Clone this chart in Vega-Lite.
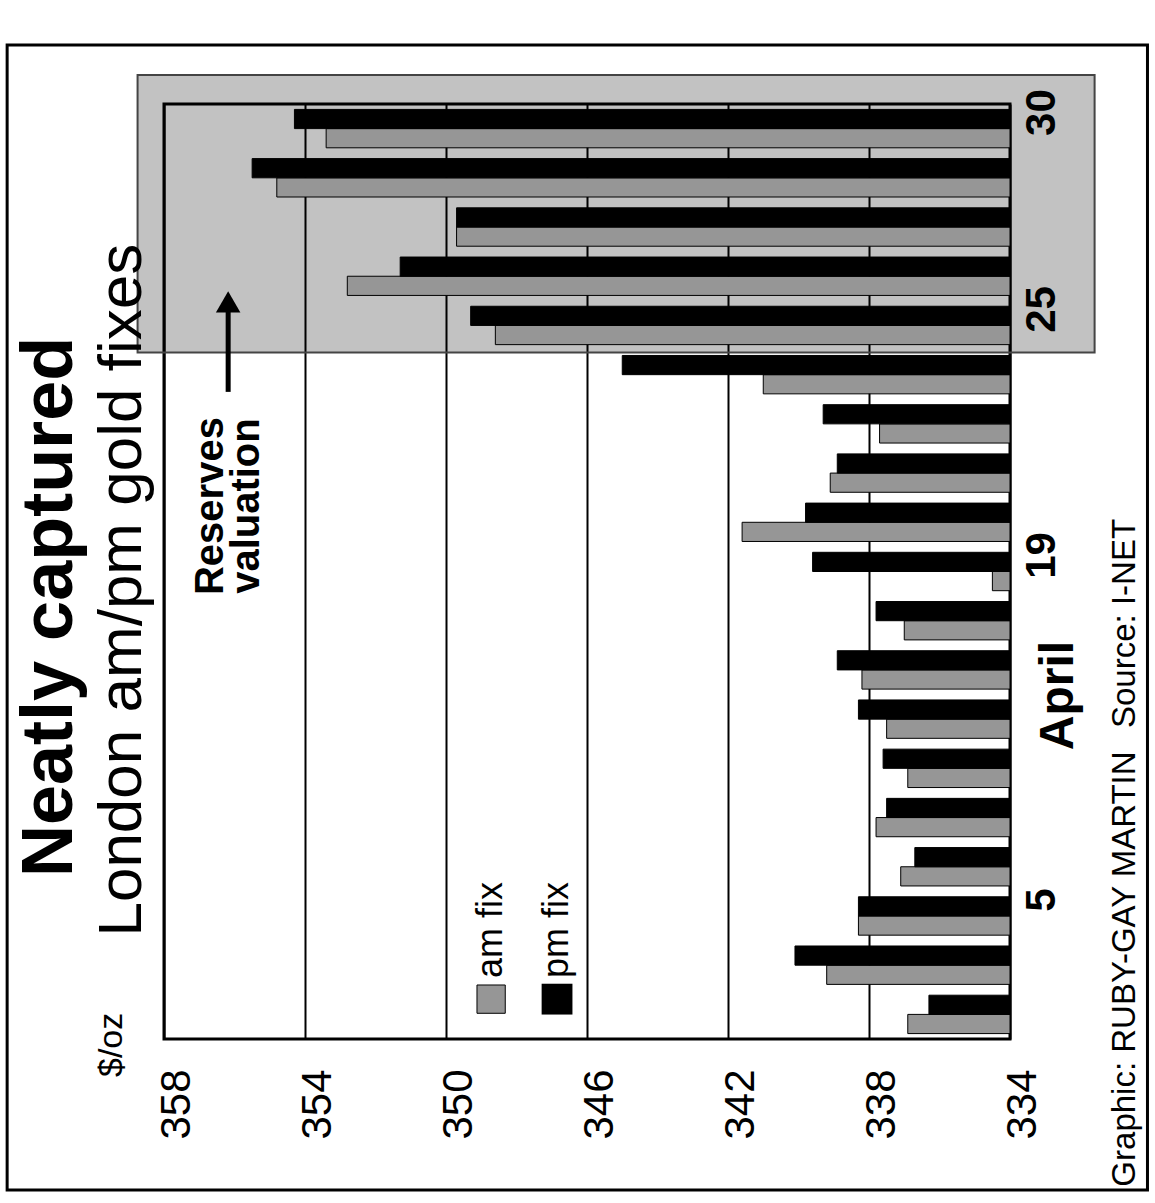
{
  "$schema": "https://vega.github.io/schema/vega-lite/v6.json",
  "width": 846,
  "height": 935,
  "autosize": {"type": "none"},
  "padding": {"left": 164, "top": 104, "right": 145, "bottom": 164},
  "background": "white",
  "config": {
    "font": "Liberation Sans",
    "view": {"stroke": "black", "strokeWidth": 3}
  },
  "datasets": {
    "fixes": [
      {"idx": 1, "fix": "am", "price": 336.9}, {"idx": 1, "fix": "pm", "price": 336.3},
      {"idx": 2, "fix": "am", "price": 339.2}, {"idx": 2, "fix": "pm", "price": 340.1},
      {"idx": 3, "fix": "am", "price": 338.3}, {"idx": 3, "fix": "pm", "price": 338.3},
      {"idx": 4, "fix": "am", "price": 337.1}, {"idx": 4, "fix": "pm", "price": 336.7},
      {"idx": 5, "fix": "am", "price": 337.8}, {"idx": 5, "fix": "pm", "price": 337.5},
      {"idx": 6, "fix": "am", "price": 336.9}, {"idx": 6, "fix": "pm", "price": 337.6},
      {"idx": 7, "fix": "am", "price": 337.5}, {"idx": 7, "fix": "pm", "price": 338.3},
      {"idx": 8, "fix": "am", "price": 338.2}, {"idx": 8, "fix": "pm", "price": 338.9},
      {"idx": 9, "fix": "am", "price": 337.0}, {"idx": 9, "fix": "pm", "price": 337.8},
      {"idx": 10, "fix": "am", "price": 334.5}, {"idx": 10, "fix": "pm", "price": 339.6},
      {"idx": 11, "fix": "am", "price": 341.6}, {"idx": 11, "fix": "pm", "price": 339.8},
      {"idx": 12, "fix": "am", "price": 339.1}, {"idx": 12, "fix": "pm", "price": 338.9},
      {"idx": 13, "fix": "am", "price": 337.7}, {"idx": 13, "fix": "pm", "price": 339.3},
      {"idx": 14, "fix": "am", "price": 341.0}, {"idx": 14, "fix": "pm", "price": 345.0},
      {"idx": 15, "fix": "am", "price": 348.6}, {"idx": 15, "fix": "pm", "price": 349.3},
      {"idx": 16, "fix": "am", "price": 352.8}, {"idx": 16, "fix": "pm", "price": 351.3},
      {"idx": 17, "fix": "am", "price": 349.7}, {"idx": 17, "fix": "pm", "price": 349.7},
      {"idx": 18, "fix": "am", "price": 354.8}, {"idx": 18, "fix": "pm", "price": 355.5},
      {"idx": 19, "fix": "am", "price": 353.4}, {"idx": 19, "fix": "pm", "price": 354.3}
    ]
  },
  "layer": [
    {
      "data": {"values": [{}]},
      "mark": {"type": "rect", "filled": false, "color": "black", "strokeWidth": 3},
      "encoding": {
        "x": {"datum": 362.45, "type": "quantitative", "scale": {"domain": [334, 358], "reverse": true, "zero": false, "nice": false}},
        "x2": {"datum": 330.1},
        "y": {"datum": 20.7, "type": "quantitative", "scale": {"domain": [0.5, 19.5], "zero": false, "nice": false}, "axis": null},
        "y2": {"datum": -2.57}
      }
    },
    {
      "data": {"values": [{}]},
      "mark": {"type": "rect", "fill": "black", "fillOpacity": 0.24, "stroke": "#444444", "strokeWidth": 2},
      "encoding": {
        "x": {"datum": 358.75, "type": "quantitative", "scale": {"domain": [334, 358], "reverse": true, "zero": false, "nice": false}},
        "x2": {"datum": 331.6},
        "y": {"datum": 14.45, "type": "quantitative", "scale": {"domain": [0.5, 19.5], "zero": false, "nice": false}, "axis": null},
        "y2": {"datum": 20.09}
      }
    },
    {
      "data": {"name": "fixes"},
      "mark": {"type": "bar", "stroke": "black", "strokeWidth": 1},
      "encoding": {
        "y": {
          "field": "idx", "type": "ordinal", "sort": "descending",
          "scale": {"paddingInner": 0.22, "paddingOuter": 0.11},
          "axis": {
            "orient": "right", "values": [3, 10, 15, 19],
            "labelExpr": "datum.value == 3 ? '5' : datum.value == 10 ? '19' : datum.value == 15 ? '25' : '30'",
            "labelAngle": -90, "labelAlign": "center", "labelBaseline": "middle",
            "labelFontSize": 42, "labelFontWeight": "bold", "labelColor": "black",
            "labelPadding": 31, "labelOffset": -16, "ticks": false, "tickSize": 0, "domain": false, "grid": false,
            "title": "April", "titleAngle": -90, "titleFontSize": 48, "titleFontWeight": "bold", "titleColor": "black",
            "titleX": 48, "titleY": 591, "titleAlign": "center", "titleBaseline": "middle"
          }
        },
        "yOffset": {"field": "fix", "type": "nominal", "scale": {"domain": ["pm", "am"], "paddingInner": 0, "paddingOuter": 0}},
        "x": {
          "field": "price", "type": "quantitative",
          "scale": {"domain": [334, 358], "reverse": true, "zero": false, "nice": false},
          "axis": {
            "values": [334, 338, 342, 346, 350, 354, 358], "grid": true, "gridColor": "black", "gridWidth": 2, "gridOpacity": 1,
            "ticks": false, "domain": false, "labelAngle": -90, "labelAlign": "right", "labelBaseline": "middle",
            "labelFontSize": 42, "labelColor": "black", "labelPadding": 30, "labelOffset": 12, "labelFlush": false, "labelOverlap": false,
            "title": null
          }
        },
        "x2": {"datum": 334},
        "color": {"field": "fix", "type": "nominal", "scale": {"domain": ["am", "pm"], "range": ["#969696", "#000000"]}, "legend": null}
      }
    },
    {
      "data": {"values": [{}]},
      "mark": {"type": "point", "shape": "square", "filled": true, "opacity": 1, "size": 800, "color": "#969696", "stroke": "black", "strokeWidth": 1},
      "encoding": {
        "x": {"datum": 348.72, "type": "quantitative", "scale": {"domain": [334, 358], "reverse": true, "zero": false, "nice": false}},
        "y": {"datum": 1.31, "type": "quantitative", "scale": {"domain": [0.5, 19.5], "zero": false, "nice": false}, "axis": null}
      }
    },
    {
      "data": {"values": [{}]},
      "mark": {"type": "point", "shape": "square", "filled": true, "opacity": 1, "size": 950, "color": "black"},
      "encoding": {
        "x": {"datum": 346.85, "type": "quantitative", "scale": {"domain": [334, 358], "reverse": true, "zero": false, "nice": false}},
        "y": {"datum": 1.31, "type": "quantitative", "scale": {"domain": [0.5, 19.5], "zero": false, "nice": false}, "axis": null}
      }
    },
    {
      "data": {"values": [{}]},
      "mark": {"type": "text", "text": "am fix", "angle": -90, "align": "left", "baseline": "middle", "fontSize": 36, "color": "black"},
      "encoding": {
        "x": {"datum": 348.72, "type": "quantitative", "scale": {"domain": [334, 358], "reverse": true, "zero": false, "nice": false}},
        "y": {"datum": 1.74, "type": "quantitative", "scale": {"domain": [0.5, 19.5], "zero": false, "nice": false}, "axis": null}
      }
    },
    {
      "data": {"values": [{}]},
      "mark": {"type": "text", "text": "pm fix", "angle": -90, "align": "left", "baseline": "middle", "fontSize": 36, "color": "black"},
      "encoding": {
        "x": {"datum": 346.85, "type": "quantitative", "scale": {"domain": [334, 358], "reverse": true, "zero": false, "nice": false}},
        "y": {"datum": 1.74, "type": "quantitative", "scale": {"domain": [0.5, 19.5], "zero": false, "nice": false}, "axis": null}
      }
    },
    {
      "data": {"values": [{}]},
      "mark": {"type": "text", "text": ["Reserves", "valuation"], "angle": -90, "align": "center", "baseline": "middle", "fontSize": 40, "fontWeight": "bold", "lineHeight": 36, "color": "black"},
      "encoding": {
        "x": {"datum": 356.67, "type": "quantitative", "scale": {"domain": [334, 358], "reverse": true, "zero": false, "nice": false}},
        "y": {"datum": 11.33, "type": "quantitative", "scale": {"domain": [0.5, 19.5], "zero": false, "nice": false}, "axis": null}
      }
    },
    {
      "data": {"values": [{}]},
      "mark": {"type": "rule", "color": "black", "strokeWidth": 5},
      "encoding": {
        "x": {"datum": 356.18, "type": "quantitative", "scale": {"domain": [334, 358], "reverse": true, "zero": false, "nice": false}},
        "y": {"datum": 13.65, "type": "quantitative", "scale": {"domain": [0.5, 19.5], "zero": false, "nice": false}, "axis": null},
        "y2": {"datum": 15.3}
      }
    },
    {
      "data": {"values": [{}]},
      "mark": {"type": "point", "shape": "triangle-up", "filled": true, "opacity": 1, "size": 600, "color": "black"},
      "encoding": {
        "x": {"datum": 356.18, "type": "quantitative", "scale": {"domain": [334, 358], "reverse": true, "zero": false, "nice": false}},
        "y": {"datum": 15.48, "type": "quantitative", "scale": {"domain": [0.5, 19.5], "zero": false, "nice": false}, "axis": null}
      }
    },
    {
      "data": {"values": [{}]},
      "mark": {"type": "text", "text": "Neatly captured", "angle": -90, "align": "center", "baseline": "middle", "fontSize": 72, "fontWeight": "bold", "color": "black"},
      "encoding": {
        "x": {"datum": 361.23, "type": "quantitative", "scale": {"domain": [334, 358], "reverse": true, "zero": false, "nice": false}},
        "y": {"datum": 9.28, "type": "quantitative", "scale": {"domain": [0.5, 19.5], "zero": false, "nice": false}, "axis": null}
      }
    },
    {
      "data": {"values": [{}]},
      "mark": {"type": "text", "text": "London am/pm gold fixes", "angle": -90, "align": "center", "baseline": "middle", "fontSize": 62, "color": "black"},
      "encoding": {
        "x": {"datum": 359.19, "type": "quantitative", "scale": {"domain": [334, 358], "reverse": true, "zero": false, "nice": false}},
        "y": {"datum": 9.62, "type": "quantitative", "scale": {"domain": [0.5, 19.5], "zero": false, "nice": false}, "axis": null}
      }
    },
    {
      "data": {"values": [{}]},
      "mark": {"type": "text", "text": "$/oz", "angle": -90, "align": "center", "baseline": "middle", "fontSize": 34, "color": "black"},
      "encoding": {
        "x": {"datum": 359.48, "type": "quantitative", "scale": {"domain": [334, 358], "reverse": true, "zero": false, "nice": false}},
        "y": {"datum": 0.38, "type": "quantitative", "scale": {"domain": [0.5, 19.5], "zero": false, "nice": false}, "axis": null}
      }
    },
    {
      "data": {"values": [{}]},
      "mark": {"type": "text", "text": "Graphic: RUBY-GAY MARTIN", "angle": -90, "align": "left", "baseline": "middle", "fontSize": 33, "color": "black"},
      "encoding": {
        "x": {"datum": 330.74, "type": "quantitative", "scale": {"domain": [334, 358], "reverse": true, "zero": false, "nice": false}},
        "y": {"datum": -2.5, "type": "quantitative", "scale": {"domain": [0.5, 19.5], "zero": false, "nice": false}, "axis": null}
      }
    },
    {
      "data": {"values": [{}]},
      "mark": {"type": "text", "text": "Source: I-NET", "angle": -90, "align": "left", "baseline": "middle", "fontSize": 33, "color": "black"},
      "encoding": {
        "x": {"datum": 330.74, "type": "quantitative", "scale": {"domain": [334, 358], "reverse": true, "zero": false, "nice": false}},
        "y": {"datum": 6.82, "type": "quantitative", "scale": {"domain": [0.5, 19.5], "zero": false, "nice": false}, "axis": null}
      }
    }
  ],
  "resolve": {"scale": {"y": "independent"}}
}
